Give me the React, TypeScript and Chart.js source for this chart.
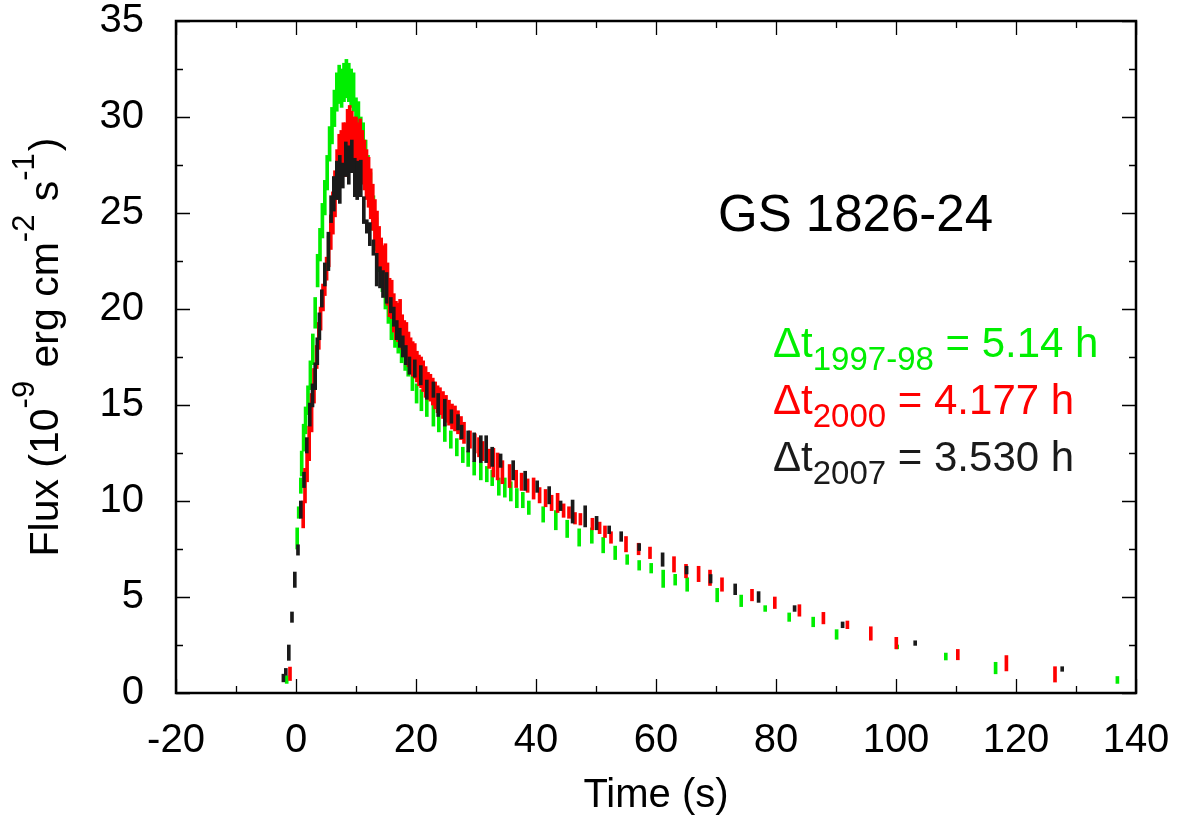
import React, { useEffect, useRef } from 'react';
import { Chart, registerables } from 'chart.js';

Chart.register(...registerables);

// ---------------- axes ----------------
const X_MIN = -20;
const X_MAX = 140;
const X_MAJOR = 20;
const X_MINOR = 10;
const Y_MIN = 0;
const Y_MAX = 35;
const Y_MAJOR = 5;
const Y_MINOR = 2.5;

// ---------------- 1997-98 (green) ----------------
const greenTime = [
  -1.55, 0.2, 0.45, 0.8, 0.95, 1.27, 1.6, 2.0, 2.4, 2.8,
  3.2, 3.6, 4.0, 4.4, 4.8, 5.2, 5.6, 6.0, 6.4, 6.8,
  7.2, 7.6, 8.0, 8.4, 8.8, 9.2, 9.6, 10.0, 10.4, 10.8,
  11.2, 11.6, 12.0, 12.4, 12.9, 13.4, 13.9, 14.4, 14.9, 15.4,
  15.9, 16.5, 17.05, 17.6, 18.2, 18.7, 19.4, 20.1, 20.9, 21.8,
  22.9, 23.8, 24.8, 25.8, 26.8, 27.8, 28.7, 29.7, 30.8, 31.8,
  32.7, 33.8, 34.8, 35.8, 36.8, 37.8, 38.8, 41.2, 43.3, 45.2,
  47.2, 49.3, 51.2, 53.2, 55.2, 57.2, 59.2, 61.2, 63.2, 65.2,
  70.2, 74.2, 78.2, 82.2, 86.2, 90.1, 100.2, 108.3, 116.6, 136.9,
];
const greenFlux = [
  0.7, 8.05, 9.4, 10.8, 11.95, 13.3, 14.2, 15.25, 16.55, 17.9,
  19.8, 22.0, 23.35, 24.6, 25.8, 27.1, 28.6, 29.55, 30.45, 31.3,
  31.7, 31.5, 31.8, 32.0, 31.8, 31.5, 31.3, 30.0, 29.85, 29.05,
  28.75, 27.9, 27.1, 26.2, 25.0, 23.9, 22.8, 21.7, 20.8, 20.0,
  19.1, 18.45, 18.05, 17.6, 17.15, 16.85, 16.2, 15.6, 15.25, 14.9,
  14.5, 14.1, 13.6, 13.2, 12.8, 12.4, 12.2, 11.7, 11.55, 11.4,
  11.2, 10.75, 10.7, 10.5, 10.15, 10.05, 9.65, 9.3, 9.0, 8.55,
  8.1, 8.2, 7.7, 7.3, 6.95, 6.65, 6.5, 5.95, 5.9, 5.65,
  5.1, 4.8, 4.4, 3.95, 3.7, 3.05, 2.4, 1.9, 1.3, 0.68,
];
const greenErr = [
  0.2, 0.55, 0.3, 0.4, 0.65, 0.7, 0.7, 0.75, 0.75, 0.8,
  0.8, 0.85, 0.85, 0.9, 0.9, 0.9, 0.9, 0.95, 0.95, 1.0,
  1.0, 1.0, 1.0, 1.0, 1.0, 1.0, 1.0, 1.0, 0.95, 0.95,
  0.95, 0.9, 0.9, 0.9, 0.9, 0.85, 0.85, 0.8, 0.8, 0.75,
  0.7, 0.45, 0.35, 0.4, 0.35, 0.35, 0.45, 0.5, 0.55, 0.5,
  0.6, 0.5, 0.5, 0.45, 0.45, 0.4, 0.4, 0.35, 0.45, 0.4,
  0.4, 0.45, 0.5, 0.5, 0.5, 0.4, 0.35, 0.4, 0.5, 0.45,
  0.45, 0.4, 0.4, 0.35, 0.25, 0.25, 0.25, 0.45, 0.28, 0.35,
  0.35, 0.3, 0.15, 0.22, 0.25, 0.25, 0.1, 0.18, 0.3, 0.18,
];

// ---------------- 2000 (red) ----------------
const redTime = [
  -1.0, 1.2, 1.5, 1.85, 2.2, 2.6, 3.0, 3.45, 3.8, 4.1,
  4.5, 4.8, 5.1, 5.45, 5.8, 6.15, 6.5, 6.85, 7.2, 7.55,
  7.9, 8.25, 8.6, 8.95, 9.3, 9.65, 10.0, 10.35, 10.7, 11.05,
  11.4, 11.75, 12.1, 12.45, 12.8, 13.15, 13.5, 13.85, 14.2, 14.55,
  14.9, 15.25, 15.6, 15.95, 16.3, 16.65, 17.0, 17.35, 17.7, 18.05,
  18.4, 18.75, 19.1, 19.45, 19.8, 20.15, 20.5, 20.85, 21.2, 21.6,
  22.0, 22.4, 22.8, 23.2, 23.6, 24.0, 24.5, 25.0, 25.5, 26.0,
  26.5, 27.0, 27.5, 28.0, 29.0, 29.8, 30.5, 31.1, 32.2, 32.9,
  33.6, 34.4, 35.6, 36.7, 37.6, 38.6, 39.6, 40.6, 41.6, 42.6,
  43.6, 44.6, 45.5, 46.5, 47.4, 49.4, 50.6, 51.5, 52.5, 55.0,
  57.1, 59.0, 63.0, 65.0, 67.1, 69.0, 71.0, 76.0, 79.8, 83.9,
  87.9, 91.9, 95.8, 100.05, 110.3, 118.4, 126.5,
];
const redFlux = [
  1.0, 9.3, 10.8, 11.9, 13.0, 14.6, 16.0, 17.5, 18.6, 19.5,
  20.6, 21.4, 22.1, 23.0, 24.0, 25.0, 26.0, 27.0, 27.8, 28.0,
  28.3, 28.3, 28.9, 29.1, 28.8, 28.6, 28.6, 28.3, 28.5, 27.9,
  27.5, 27.0, 26.6, 26.0, 25.3, 24.5, 23.9, 23.2, 22.6, 22.2,
  22.2, 21.3, 20.6, 20.5, 19.8, 19.4, 19.3, 19.5, 18.8, 18.5,
  18.3, 17.9, 17.6, 17.4, 17.3, 17.0, 16.8, 16.7, 16.5, 16.2,
  16.0, 15.9, 15.7, 15.5, 15.3, 15.2, 15.0, 14.8, 14.6, 14.4,
  14.3, 14.1, 13.8, 13.55, 13.2, 13.0, 12.8, 12.6, 12.2, 12.0,
  11.8, 11.5, 11.3, 11.15, 11.0, 10.8, 10.65, 10.3, 10.15, 9.9,
  9.9, 9.5, 9.4, 9.1, 9.05, 8.8, 8.6, 8.4, 8.1, 7.75,
  7.5, 7.3, 6.7, 6.35, 6.2, 6.0, 5.65, 5.1, 4.7, 4.3,
  3.9, 3.55, 3.1, 2.6, 2.0, 1.55, 0.97,
];
const redErr = [
  0.35, 0.7, 0.9, 0.9, 0.9, 1.0, 0.9, 0.6, 0.7, 0.6,
  0.7, 0.7, 0.6, 0.8, 0.9, 1.1, 1.2, 1.3, 1.3, 1.3,
  1.4, 1.4, 1.5, 1.5, 1.5, 1.4, 1.4, 1.4, 1.4, 1.4,
  1.3, 1.3, 1.3, 1.3, 1.2, 1.2, 1.2, 1.1, 1.1, 1.1,
  1.2, 1.1, 1.0, 1.0, 1.0, 1.0, 1.0, 1.0, 0.9, 0.9,
  1.0, 0.9, 0.9, 0.9, 0.9, 0.8, 0.8, 0.8, 0.8, 0.8,
  0.7, 0.7, 0.7, 0.7, 0.7, 0.7, 0.7, 0.7, 0.65, 0.65,
  0.65, 0.6, 0.6, 0.55, 0.45, 0.5, 0.5, 0.5, 0.5, 0.75,
  0.7, 0.6, 0.6, 0.45, 0.45, 0.35, 0.55, 0.4, 0.45, 0.4,
  0.5, 0.35, 0.3, 0.3, 0.3, 0.3, 0.3, 0.3, 0.3, 0.4,
  0.3, 0.3, 0.4, 0.35, 0.4, 0.4, 0.35, 0.3, 0.3, 0.3,
  0.3, 0.2, 0.35, 0.3, 0.27, 0.4, 0.4,
];

// ---------------- 2007 (black) ----------------
const blackTime = [
  -2.1, -1.7, -1.2, -0.67, -0.2, 0.33, 0.8, 1.33, 1.8, 2.3,
  2.75, 3.2, 3.55, 3.9, 4.3, 4.8, 5.4, 5.85, 6.3, 6.8,
  7.3, 7.8, 8.3, 8.8, 9.3, 9.8, 10.2, 10.8, 11.3, 11.8,
  12.3, 12.9, 13.45, 14.0, 14.5, 15.1, 15.8, 16.3, 16.8, 17.3,
  17.8, 18.3, 18.9, 19.8, 20.8, 21.8, 22.9, 23.7, 24.8, 25.9,
  27.0, 27.6, 28.7, 29.7, 30.8, 31.7, 32.7, 34.1, 36.2, 38.2,
  40.2, 42.2, 44.1, 46.1, 48.2, 50.1, 52.2, 54.2, 57.2, 61.1,
  65.1, 69.1, 73.2, 77.1, 83.1, 91.1, 103.2, 127.7,
];
const blackFlux = [
  0.78, 1.1, 2.1, 3.95, 5.9, 7.45, 9.55, 11.1, 12.9, 14.5,
  15.5, 16.5, 17.8, 19.1, 20.55, 21.8, 23.0, 25.2, 26.0, 26.7,
  26.75, 26.95, 27.8, 27.5, 27.95, 26.85, 26.7, 26.8, 25.15, 24.3,
  23.9, 23.2, 22.05, 21.65, 21.3, 21.1, 20.2, 19.6, 18.9, 18.5,
  18.05, 17.6, 17.05, 16.9, 16.55, 15.8, 15.8, 15.0, 14.6, 14.4,
  14.1, 13.6, 13.1, 12.8, 12.7, 12.7, 12.3, 12.1, 11.6, 11.05,
  10.75, 10.3, 9.75, 9.45, 9.2, 8.85, 8.5, 8.15, 7.6, 6.95,
  6.4, 5.95, 5.4, 5.0, 4.4, 3.55, 2.6, 1.25,
];
const blackErr = [
  0.2, 0.18, 0.4, 0.27, 0.4, 0.27, 0.45, 0.4, 0.4, 0.6,
  0.6, 0.7, 0.7, 0.7, 0.45, 0.6, 1.0, 0.7, 0.9, 1.0,
  1.25, 0.65, 0.9, 1.0, 0.85, 1.0, 1.0, 0.95, 0.7, 0.35,
  0.6, 0.4, 0.85, 0.55, 0.7, 0.8, 0.4, 0.5, 0.5, 0.5,
  0.55, 0.5, 0.45, 0.45, 0.5, 0.5, 0.4, 0.6, 0.7, 0.35,
  0.4, 0.35, 0.55, 0.75, 0.7, 0.7, 0.5, 0.35, 0.5, 0.5,
  0.3, 0.45, 0.25, 0.6, 0.55, 0.35, 0.2, 0.25, 0.18, 0.35,
  0.2, 0.22, 0.28, 0.28, 0.15, 0.15, 0.12, 0.12,
];

// ---------------- text ----------------
const SOURCE_NAME = 'GS 1826-24';
const X_TITLE = 'Time (s)';
const RECURRENCE_LABELS = [
  { sub: '1997-98', rest: ' = 5.14 h', color: '#00ee00' },
  { sub: '2000', rest: ' = 4.177 h', color: '#ff0000' },
  { sub: '2007', rest: ' = 3.530 h', color: '#1a1a1a' },
];

const FONT = '"Liberation Sans", Arial, Helvetica, sans-serif';
const GREEN = '#00ee00';
const RED = '#ff0000';
const DARK = '#1a1a1a';

const toBars = (t: number[], f: number[], e: number[]) =>
  t.map((x, i) => ({ x, y: [f[i] - e[i], f[i] + e[i]] }));

type Seg = { text: string; size: number; dy: number; gap?: number };

function segsWidth(ctx: CanvasRenderingContext2D, segs: Seg[]) {
  let w = 0;
  for (const s of segs) {
    ctx.font = `${s.size}px ${FONT}`;
    w += ctx.measureText(s.text).width + (s.gap || 0);
  }
  return w;
}

function drawSegs(ctx: CanvasRenderingContext2D, x: number, y: number, segs: Seg[]) {
  let cx = x;
  for (const s of segs) {
    ctx.font = `${s.size}px ${FONT}`;
    ctx.fillText(s.text, cx, y + s.dy);
    cx += ctx.measureText(s.text).width + (s.gap || 0);
  }
}

const decorPlugin = {
  id: 'decor',
  afterDatasetsDraw(chart: any) {
    const { ctx, chartArea: a, scales } = chart;
    const xs = scales.x;
    const ys = scales.y;
    ctx.save();

    // inward ticks on all four sides
    ctx.strokeStyle = '#000';
    ctx.lineWidth = 1.3;
    ctx.beginPath();
    for (let v = X_MIN; v <= X_MAX + 1e-9; v += X_MINOR) {
      const major = Math.abs(v / X_MAJOR - Math.round(v / X_MAJOR)) < 1e-9;
      const len = major ? 14 : 7;
      const px = Math.round(xs.getPixelForValue(v)) + 0.5;
      ctx.moveTo(px, a.bottom);
      ctx.lineTo(px, a.bottom - len);
      ctx.moveTo(px, a.top);
      ctx.lineTo(px, a.top + len);
    }
    for (let v = Y_MIN; v <= Y_MAX + 1e-9; v += Y_MINOR) {
      const major = Math.abs(v / Y_MAJOR - Math.round(v / Y_MAJOR)) < 1e-9;
      const len = major ? 14 : 7;
      const py = Math.round(ys.getPixelForValue(v)) + 0.5;
      ctx.moveTo(a.left, py);
      ctx.lineTo(a.left + len, py);
      ctx.moveTo(a.right, py);
      ctx.lineTo(a.right - len, py);
    }
    ctx.stroke();

    // frame
    ctx.lineWidth = 2.5;
    ctx.strokeRect(a.left, a.top, a.right - a.left, a.bottom - a.top);

    // source name
    ctx.fillStyle = '#000';
    ctx.textBaseline = 'alphabetic';
    ctx.textAlign = 'left';
    ctx.font = `51px ${FONT}`;
    ctx.fillText(SOURCE_NAME, 718, 231);

    // recurrence labels
    RECURRENCE_LABELS.forEach((l, i) => {
      ctx.fillStyle = l.color;
      drawSegs(ctx, 773, 357 + i * 57, [
        { text: '\u0394t', size: 42, dy: 0 },
        { text: l.sub, size: 33, dy: 13 },
        { text: l.rest, size: 42, dy: 0 },
      ]);
    });

    // y-axis title with superscripts
    const ySegs: Seg[] = [
      { text: 'Flux (10', size: 41, dy: 0 },
      { text: '-9', size: 31, dy: -24, gap: 2 },
      { text: ' erg cm', size: 41, dy: 0 },
      { text: '-2', size: 31, dy: -24, gap: 2 },
      { text: ' s', size: 41, dy: 0 },
      { text: '-1', size: 31, dy: -24, gap: 2 },
      { text: ')', size: 41, dy: 0 },
    ];
    ctx.fillStyle = '#000';
    ctx.translate(58, 347);
    ctx.rotate(-Math.PI / 2);
    const w = segsWidth(ctx, ySegs);
    drawSegs(ctx, -w / 2, 0, ySegs);

    ctx.restore();
  },
};

export default function App() {
  const ref = useRef<HTMLCanvasElement>(null);

  useEffect(() => {
    if (!ref.current) return;
    const barOpts = { barThickness: 3, borderWidth: 0, grouped: false };
    const chart = new Chart(ref.current, {
      type: 'bar',
      data: {
        datasets: [
          { label: '2007', data: toBars(blackTime, blackFlux, blackErr), backgroundColor: DARK, ...barOpts },
          { label: '2000', data: toBars(redTime, redFlux, redErr), backgroundColor: RED, ...barOpts },
          { label: '1997-98', data: toBars(greenTime, greenFlux, greenErr), backgroundColor: GREEN, ...barOpts },
        ] as any,
      },
      options: {
        responsive: false,
        animation: false,
        events: [],
        layout: { padding: { left: 0, top: 21, right: 48, bottom: 0 } },
        plugins: {
          legend: { display: false },
          tooltip: { enabled: false },
          title: { display: false },
        },
        scales: {
          x: {
            type: 'linear',
            min: X_MIN,
            max: X_MAX,
            offset: false,
            grid: { display: false },
            border: { display: false },
            ticks: {
              stepSize: X_MAJOR,
              autoSkip: false,
              maxRotation: 0,
              padding: 16,
              color: '#000',
              font: { family: FONT, size: 40 },
            },
            title: {
              display: true,
              text: X_TITLE,
              color: '#000',
              font: { family: FONT, size: 40 },
              padding: { top: 0, bottom: 0 },
            },
            afterFit: (s: any) => {
              s.height = 127;
              s.paddingLeft = 0;
              s.paddingRight = 0;
            },
          },
          y: {
            type: 'linear',
            min: Y_MIN,
            max: Y_MAX,
            grid: { display: false },
            border: { display: false },
            ticks: {
              stepSize: Y_MAJOR,
              padding: 24,
              color: '#000',
              font: { family: FONT, size: 40 },
            },
            afterFit: (s: any) => {
              s.width = 176;
              s.paddingTop = 0;
              s.paddingBottom = 0;
            },
          },
        },
      } as any,
      plugins: [decorPlugin],
    });
    return () => chart.destroy();
  }, []);

  return (
    <div style={{ position: 'fixed', left: 0, top: 0, width: 1184, height: 820, background: '#fff' }}>
      <canvas ref={ref} width={1184} height={820} style={{ display: 'block' }} />
    </div>
  );
}
